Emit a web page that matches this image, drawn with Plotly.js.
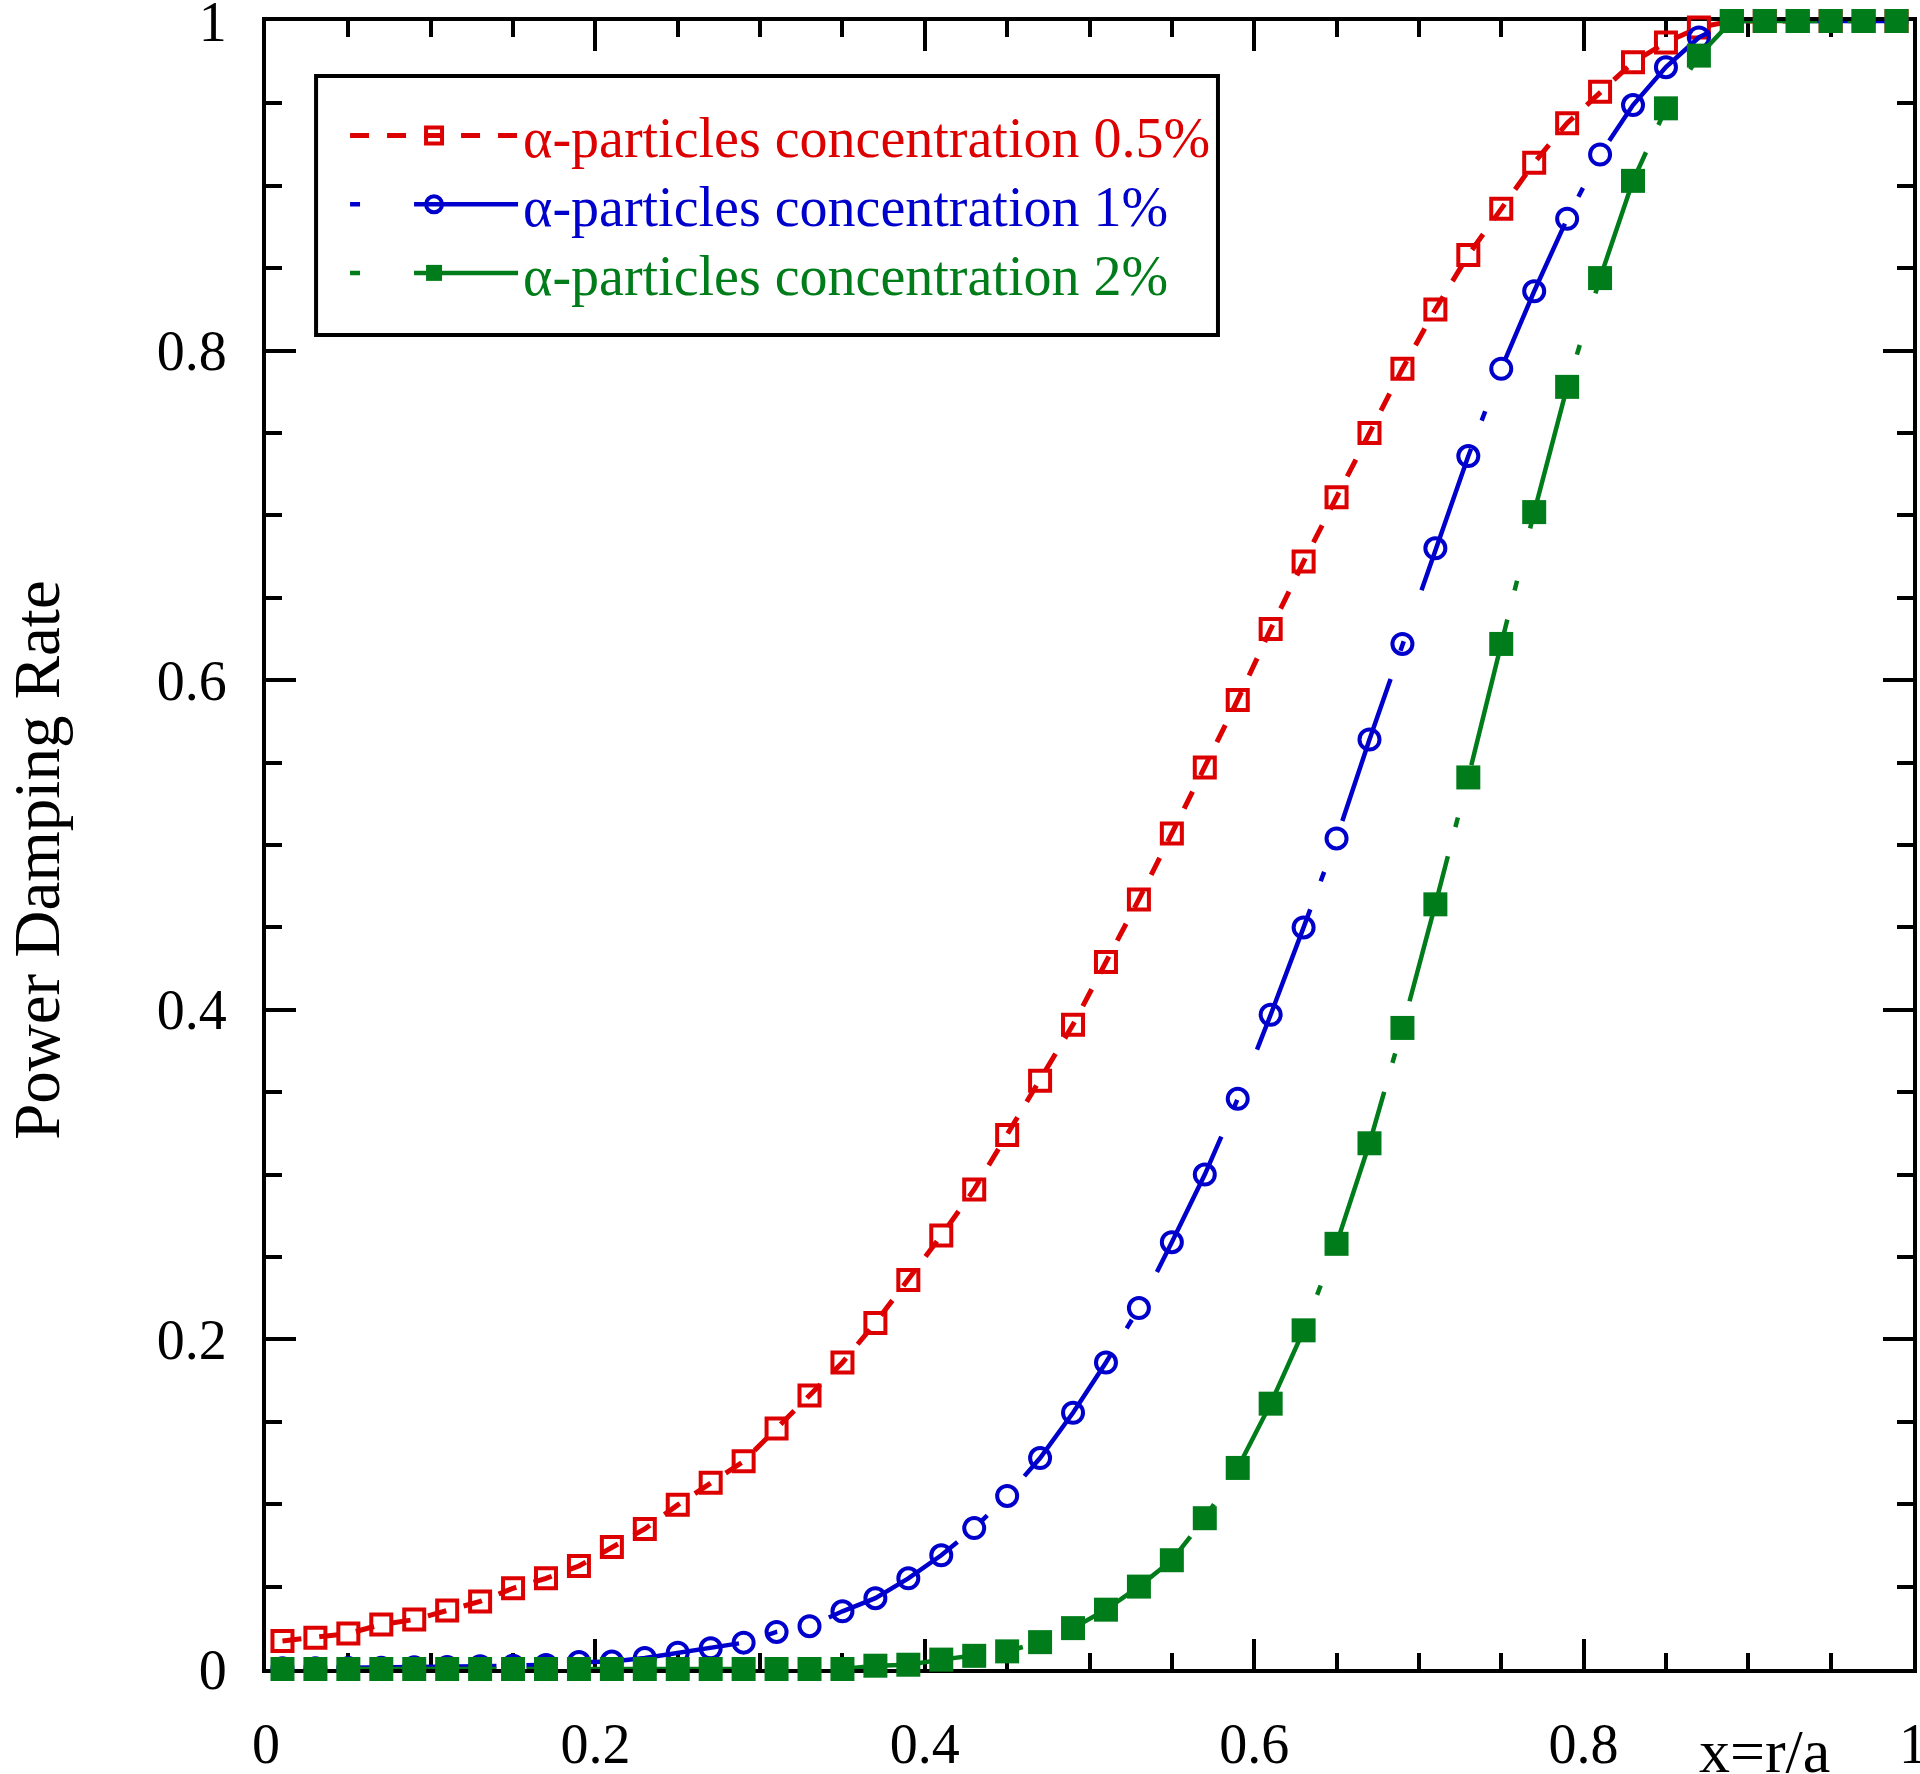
<!DOCTYPE html>
<html>
<head>
<meta charset="utf-8">
<script src="https://cdn.plot.ly/plotly-3.0.1.min.js"></script>
<style>
  html, body { margin: 0; padding: 0; background: #ffffff; }
  #chart { width: 1920px; height: 1774px; }
</style>
</head>
<body>
<div id="chart"></div>
<script>
// x = r/a sample positions
const xValues = [0.01, 0.03, 0.05, 0.07, 0.09, 0.11, 0.13, 0.15, 0.17, 0.19,
                 0.21, 0.23, 0.25, 0.27, 0.29, 0.31, 0.33, 0.35, 0.37, 0.39,
                 0.41, 0.43, 0.45, 0.47, 0.49, 0.51, 0.53, 0.55, 0.57, 0.59,
                 0.61, 0.63, 0.65, 0.67, 0.69, 0.71, 0.73, 0.75, 0.77, 0.79,
                 0.81, 0.83, 0.85, 0.87, 0.89, 0.91, 0.93, 0.95, 0.97, 0.99];

// alpha-particles concentration 0.5%
const conc05 = [0.017, 0.019, 0.0215, 0.027, 0.030, 0.0355, 0.041, 0.049, 0.055, 0.0625,
                0.074, 0.085, 0.0996, 0.113, 0.126, 0.146, 0.166, 0.186, 0.210, 0.236,
                0.263, 0.291, 0.324, 0.357, 0.391, 0.429, 0.467, 0.507, 0.547, 0.588,
                0.631, 0.672, 0.711, 0.750, 0.789, 0.825, 0.858, 0.886, 0.914, 0.938,
                0.957, 0.975, 0.987, 0.996, 1.0, 1.0, 1.0, 1.0, 1.0, 1.0];

// alpha-particles concentration 1%
const conc1 = [0.0004, 0.0005, 0.0006, 0.0008, 0.001, 0.0012, 0.0016, 0.002, 0.0025, 0.0042,
               0.0045, 0.0067, 0.0099, 0.0126, 0.016, 0.0225, 0.026, 0.035, 0.043, 0.055,
               0.069, 0.0855, 0.105, 0.128, 0.1555, 0.186, 0.219, 0.259, 0.300, 0.346,
               0.397, 0.450, 0.504, 0.564, 0.622, 0.680, 0.736, 0.789, 0.836, 0.880,
               0.919, 0.949, 0.972, 0.990, 1.0, 1.0, 1.0, 1.0, 1.0, 1.0];

// alpha-particles concentration 2%
const conc2 = [0, 0, 0, 0, 0, 0, 0, 0, 0, 0,
               0, 0, 0, 0, 0, 0, 0, 0, 0.002, 0.0026,
               0.0057, 0.008, 0.0107, 0.0163, 0.0248, 0.036, 0.050, 0.066, 0.0915, 0.122,
               0.161, 0.2055, 0.258, 0.319, 0.389, 0.464, 0.541, 0.622, 0.702, 0.778,
               0.844, 0.903, 0.947, 0.979, 1.0, 1.0, 1.0, 1.0, 1.0, 1.0];

// tick values / labels (both axes)
const tickValues = [0, 0.2, 0.4, 0.6, 0.8, 1];
const tickLabels = ['0', '0.2', '0.4', '0.6', '0.8', '1'];

const seriesNames = ['α-particles concentration 0.5%', 'α-particles concentration 1%', 'α-particles concentration 2%'];
const seriesColors = ['#dd0000', '#0000cc', '#007d1a'];
const yTitleText = 'Power Damping Rate';
const xTitleText = 'x=r/a';

const FONT = 'Liberation Serif, Times New Roman, serif';

function legendName(i) {
  return '<span style="color:' + seriesColors[i] + '">' + seriesNames[i] + '</span>';
}

const traces = [
  {
    x: xValues, y: conc05, type: 'scatter', mode: 'lines+markers',
    name: legendName(0), cliponaxis: false, legend: 'legend',
    line: { color: seriesColors[0], width: 5, dash: '19px,18px' },
    marker: { symbol: 'square-open', size: 20, color: seriesColors[0], line: { width: 4, color: seriesColors[0] } }
  },
  {
    x: xValues, y: conc1, type: 'scatter', mode: 'lines+markers',
    name: legendName(1), cliponaxis: false, legend: 'legend2',
    line: { color: seriesColors[1], width: 4.5, dash: '10px,54px,150px,30px' },
    marker: { symbol: 'circle-open', size: 20, color: seriesColors[1], line: { width: 4, color: seriesColors[1] } }
  },
  {
    x: xValues, y: conc2, type: 'scatter', mode: 'lines+markers',
    name: legendName(2), cliponaxis: false, legend: 'legend3',
    line: { color: seriesColors[2], width: 4.5, dash: '10px,54px,150px,30px' },
    marker: { symbol: 'square', size: 24, color: seriesColors[2], line: { width: 0 } }
  }
];

const axisCommon = {
  range: [0, 1],
  showgrid: false,
  zeroline: false,
  showline: true,
  linecolor: '#000000',
  linewidth: 4,
  mirror: 'allticks',
  ticks: 'inside',
  ticklen: 30,
  tickwidth: 4,
  tickcolor: '#000000',
  tickmode: 'array',
  tickvals: tickValues,
  ticktext: tickLabels,
  ticklabeloverflow: 'allow',
  layer: 'below traces',
  tickfont: { family: FONT, size: 56, color: '#000000' },
  minor: { dtick: 0.05, tick0: 0, ticks: 'inside', ticklen: 16, tickwidth: 4, tickcolor: '#000000', showgrid: false }
};

function legendRow(yPos) {
  return {
    x: 0.048, y: yPos, xanchor: 'left', yanchor: 'middle',
    bgcolor: 'rgba(0,0,0,0)',
    borderwidth: 0,
    font: { family: FONT, size: 56, color: '#000000' },
    itemwidth: 168
  };
}

const layout = {
  width: 1920,
  height: 1774,
  paper_bgcolor: '#ffffff',
  plot_bgcolor: '#ffffff',
  margin: { l: 266, r: 7, t: 21, b: 105, pad: 0 },
  showlegend: true,
  font: { family: FONT, color: '#000000' },
  xaxis: Object.assign({}, axisCommon, {
    ticklabelstandoff: 23,
    title: { text: '' }
  }),
  yaxis: Object.assign({}, axisCommon, {
    ticklabelstandoff: 24,
    title: { text: '' }
  }),
  legend: legendRow(0.9305),
  legend2: legendRow(0.8887),
  legend3: legendRow(0.8471),
  shapes: [
    {
      type: 'rect', xref: 'paper', yref: 'paper',
      x0: 0.0304, x1: 0.578, y0: 0.8095, y1: 0.9666,
      line: { color: '#000000', width: 4 }, fillcolor: 'rgba(0,0,0,0)', layer: 'above'
    }
  ],
  annotations: [
    {
      text: yTitleText, xref: 'paper', yref: 'paper', x: 0, y: 0.491,
      xanchor: 'center', yanchor: 'middle', xshift: -229, textangle: -90, showarrow: false,
      borderpad: 0,
      font: { family: FONT, size: 65, color: '#000000' }
    },
    {
      text: xTitleText, xref: 'x', yref: 'paper', x: 0.91, y: -0.028,
      xanchor: 'center', yanchor: 'top', showarrow: false,
      font: { family: FONT, size: 62, color: '#000000' }
    }
  ]
};

Plotly.newPlot('chart', traces, layout, { displayModeBar: false, staticPlot: true });
</script>
</body>
</html>
